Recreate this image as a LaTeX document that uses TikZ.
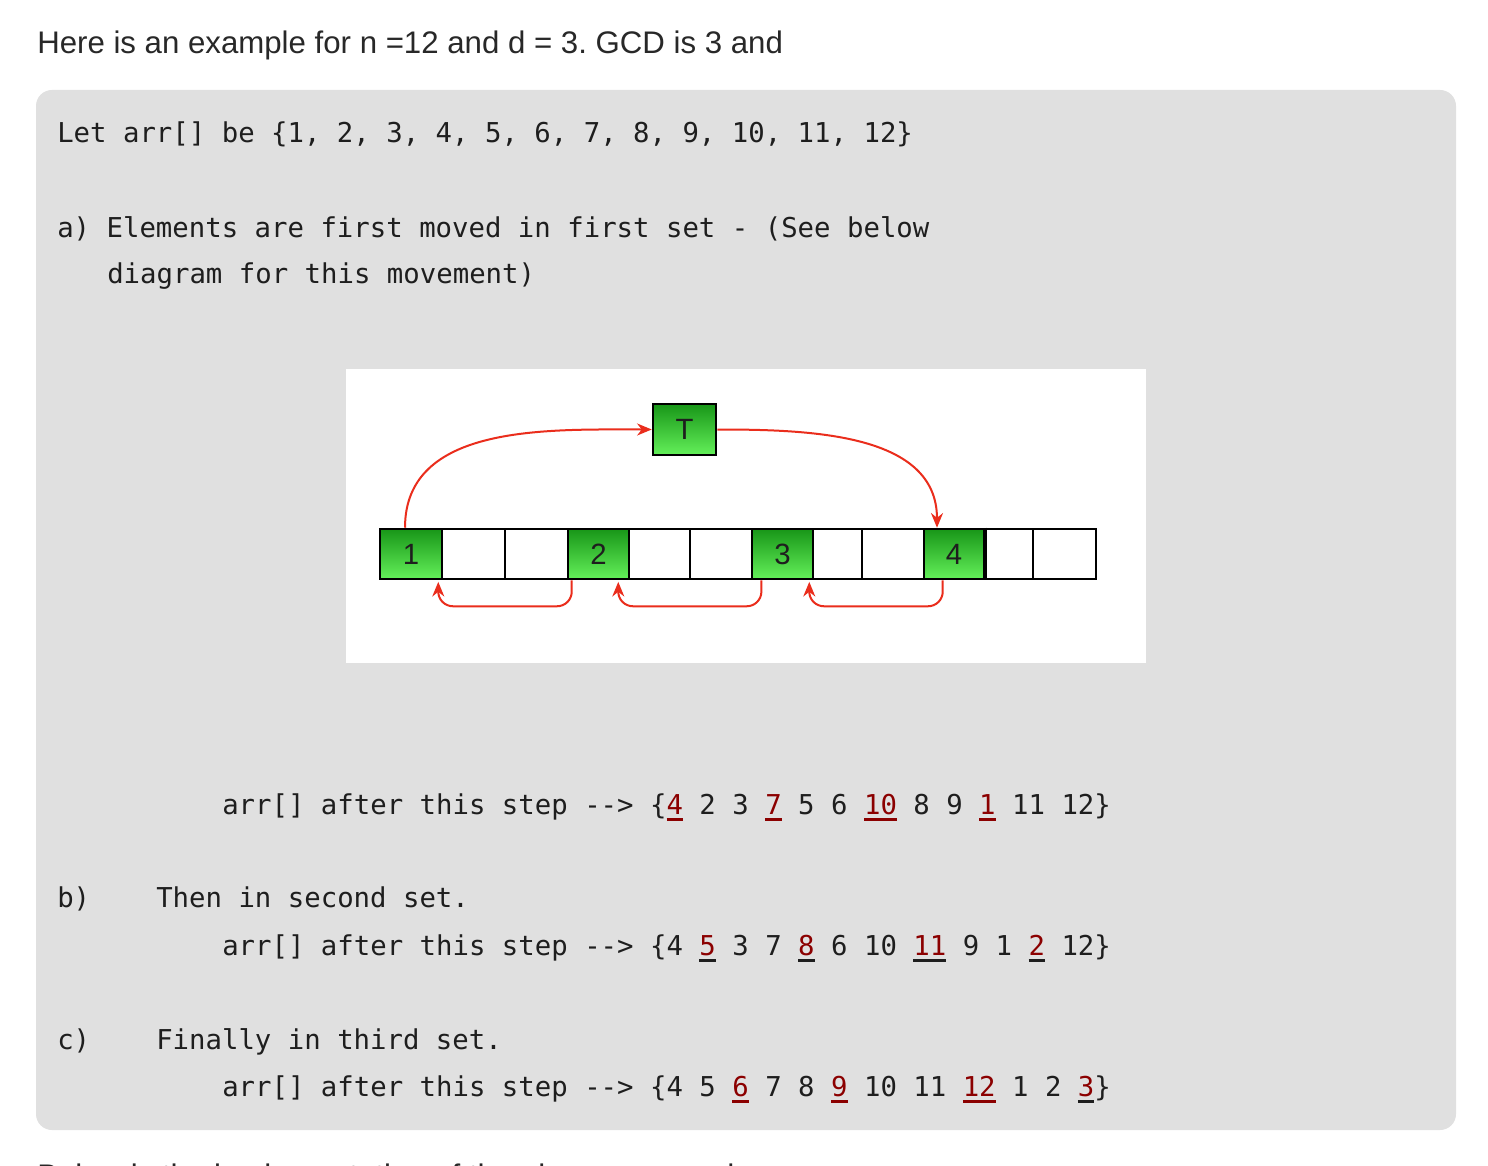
\documentclass[tikz,border=0pt]{standalone}
\usepackage{fontspec}
\setmainfont{Liberation Sans}
\newfontfamily\codefont{DejaVu Sans Mono}
\usetikzlibrary{arrows.meta}
\definecolor{boxgray}{RGB}{224,224,224}
\definecolor{dred}{RGB}{139,0,0}
\definecolor{txt}{RGB}{30,30,30}
\definecolor{head}{RGB}{40,40,40}
\definecolor{arr}{RGB}{234,45,28}
\definecolor{gtop}{RGB}{24,150,24}
\definecolor{gbot}{RGB}{100,240,90}
\newcommand\mku[2]{\setbox0\hbox{#2}\rlap{\color{#1}\rule[-5.2pt]{\wd0}{2.2pt}}\box0\relax}
\newcommand\rd[1]{\textcolor{dred}{#1}}
\frenchspacing
\begin{document}
\begin{tikzpicture}[x=0.75pt,y=-0.75pt,
  code/.style={anchor=base west, inner sep=0pt, font=\codefont\fontsize{20.5pt}{24pt}\selectfont, text=txt},
  heading/.style={anchor=base west, inner sep=0pt, font=\fontsize{23.4pt}{28pt}\selectfont, text=head},
  cell/.style={draw=black, line width=1.9pt, minimum height=37.5pt, inner sep=0pt, fill=white, font=\fontsize{22pt}{26pt}\selectfont, text=txt},
  gcell/.style={cell, top color=gtop, bottom color=gbot},
  mv/.style={draw=arr, line width=1.5pt, -{Stealth[length=11pt,width=9pt]}}]
\useasboundingbox (0,0) rectangle (1488,1166);
\fill[white] (0,0) rectangle (1488,1166);
\begin{scope}
\clip (0,0) rectangle (1488,1166);
\node[heading] (h1) at (37,54) {Here is an example for n =12 and d = 3. GCD is 3 and};
\fill[boxgray, rounded corners=12pt] (36,90) rectangle (1456,1130);
\node[heading] (h2) at (37,1186) {Below is the implementation of the above approach};
\end{scope}

\node[code] (l0) at (57,143) {Let arr[] be \{1, 2, 3, 4, 5, 6, 7, 8, 9, 10, 11, 12\}};
\node[code] (la) at (57,238) {a) Elements are first moved in first set - (See below};
\node[code] (la2) at (107,284) {diagram for this movement)};
\node[code] (r1) at (222,814) {arr[] after this step -{}-{}> \{\mku{dred}{\rd{4}} 2 3 \mku{dred}{\rd{7}} 5 6 \mku{dred}{\rd{10}} 8 9 \mku{dred}{\rd{1}} 11 12\}};
\node[code] (lb) at (57,907) {b)};
\node[code] (lb2) at (156,907) {Then in second set.};
\node[code] (r2) at (222,955) {arr[] after this step -{}-{}> \{4 \mku{txt}{\rd{5}} 3 7 \mku{txt}{\rd{8}} 6 10 \mku{txt}{\rd{11}} 9 1 \mku{txt}{\rd{2}} 12\}};
\node[code] (lc) at (57,1049) {c)};
\node[code] (lc2) at (156,1049) {Finally in third set.};
\node[code] (r3) at (222,1096) {arr[] after this step -{}-{}> \{4 5 \mku{dred}{\rd{6}} 7 8 \mku{dred}{\rd{9}} 10 11 \mku{dred}{\rd{12}} 1 2 \mku{txt}{\rd{3}}\}};

% diagram panel
\fill[white] (346,369) rectangle (1146,663);

% white cells
\node[cell, minimum width=47.25pt] (c2) at (473.5,554) {};
\node[cell, minimum width=47.25pt] (c3) at (536.5,554) {};
\node[cell, minimum width=45.75pt] (c5) at (659.5,554) {};
\node[cell, minimum width=46.5pt] (c6) at (721,554) {};
\node[cell, minimum width=36.75pt] (c8) at (837.5,554) {};
\node[cell, minimum width=46.5pt] (c9) at (893,554) {};
\node[cell, minimum width=36.75pt] (c11) at (1008.5,554) {};
\node[cell, minimum width=47.25pt] (c12) at (1064.5,554) {};
% green cells
\node[gcell, minimum width=46.5pt] (c1) at (411,554) {1};
\node[gcell, minimum width=45.75pt] (c4) at (598.5,554) {2};
\node[gcell, minimum width=45.75pt] (c7) at (782.5,554) {3};
\node[gcell, minimum width=45pt] (c10) at (954,554) {4};
\draw[black, line width=3pt] (c10.north east) -- (c10.south east);
\node[gcell, minimum width=47.25pt, minimum height=38.25pt] (T) at (684.5,429.5) {T};

% movements
\draw[mv] ([xshift=-4.5pt]c1.north) to[out=90,in=180] (T.west);
\draw[mv] (T.east) to[out=0,in=90] ([xshift=-12.75pt]c10.north);
\draw[mv, rounded corners=11pt] ([xshift=3.75pt]c4.south west) -- ++(0,26) -| ([xshift=-3.75pt,yshift=-1.2pt]c1.south east);
\draw[mv, rounded corners=11pt] ([xshift=8pt]c7.south west) -- ++(0,26) -| ([xshift=-9pt,yshift=-1.2pt]c4.south east);
\draw[mv, rounded corners=11pt] ([xshift=15pt]c10.south west) -- ++(0,26) -| ([xshift=-3.75pt,yshift=-1.2pt]c7.south east);
\end{tikzpicture}
\end{document}
